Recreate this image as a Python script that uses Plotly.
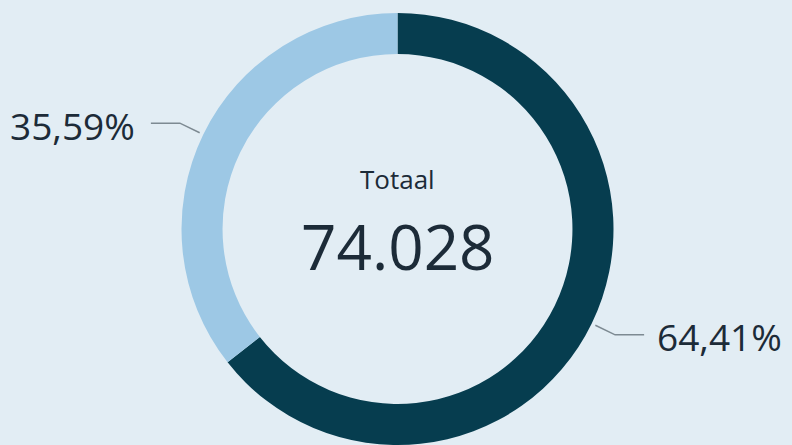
import math
import plotly.graph_objects as go

# Data
categories = ["Groep A", "Groep B"]
values = [47682, 26346]
colors = ["#063d4f", "#9dc8e5"]
center_title = "Totaal"

W, H = 792, 445
BG = "#e2edf4"
TEXT = "#1c2b38"
LINE = "#7d8a92"

total = sum(values)
total_str = f"{total:,}".replace(",", ".")

# pie geometry (pixels)
cx, cy, R = 397.5, 229.0, 216.0
hole = 0.81

fig = go.Figure(go.Pie(
    labels=categories, values=values, sort=False, direction="clockwise",
    rotation=0, hole=hole, textinfo="none", hoverinfo="label+value+percent",
    marker=dict(colors=colors, line=dict(width=0)), showlegend=False,
    domain=dict(x=[(cx - R) / W, (cx + R) / W], y=[max(0, (H - cy - R) / H), (H - cy + R) / H]),
))

def px2paper(x, y):
    return x / W, 1 - y / H

shapes = []
annotations = []
cum = 0.0
for v in values:
    frac = v / total
    mid = (cum + frac / 2) * 2 * math.pi  # clockwise from top
    cum += frac
    sx, sy = math.sin(mid), -math.cos(mid)
    x0, y0 = cx + (R + 4) * sx, cy + (R + 4) * sy
    x1, y1 = cx + (R + 26) * sx, cy + (R + 26) * sy
    side = 1 if sx >= 0 else -1
    x2, y2 = x1 + side * 29, y1
    p0, p1, p2 = px2paper(x0, y0), px2paper(x1, y1), px2paper(x2, y2)
    shapes.append(dict(type="path", xref="paper", yref="paper",
                       path=f"M {p0[0]},{p0[1]} L {p1[0]},{p1[1]} L {p2[0]},{p2[1]}",
                       line=dict(color=LINE, width=1.5)))
    label = f"{frac*100:.2f}%".replace(".", ",")
    tx, ty = px2paper(x2 + side * (11 if side > 0 else 14), y2 + 2)
    annotations.append(dict(x=tx, y=ty, xref="paper", yref="paper", text=label,
                            showarrow=False, xanchor="left" if side > 0 else "right",
                            yanchor="middle",
                            font=dict(family="Open Sans", size=37, color=TEXT)))

annotations.append(dict(x=cx / W, y=1 - 179 / H, xref="paper", yref="paper",
                        text=center_title, showarrow=False, yanchor="middle",
                        font=dict(family="Open Sans", size=26, color=TEXT)))
annotations.append(dict(x=cx / W, y=1 - 246 / H, xref="paper", yref="paper",
                        text=total_str, showarrow=False, yanchor="middle",
                        font=dict(family="Open Sans", size=62, color=TEXT)))

fig.update_layout(
    width=W, height=H, margin=dict(l=0, r=0, t=0, b=0),
    paper_bgcolor=BG, plot_bgcolor=BG,
    shapes=shapes, annotations=annotations,
)

fig.write_html("out.html", config={"displayModeBar": False},
               post_script="document.body.style.margin='0';document.body.style.background='" + BG + "';")
